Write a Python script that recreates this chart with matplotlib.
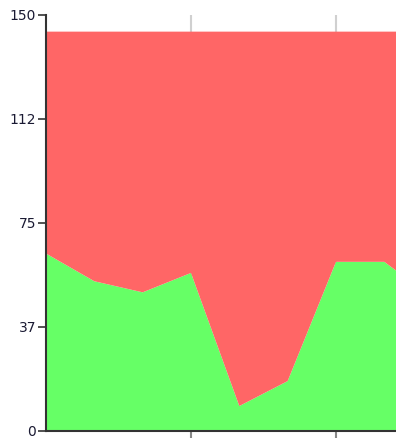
import numpy as np
import matplotlib.pyplot as plt

# Stacked area: green series at the bottom, red fills up to the total
x = np.arange(9)
green = [64, 54, 50, 57, 9, 18, 61, 61, 48]
total = 144
red = [total - g for g in green]

ytick_vals = [0, 37.5, 75, 112.5, 150]
ytick_labels = ['0', '37', '75', '112', '150']

fig = plt.figure(figsize=(3.96, 4.38), dpi=100)
ax = fig.add_axes([46/396, 7/438, 350/396, 416/438])

ax.stackplot(x, green, red, colors=['#66ff66', '#ff6666'], zorder=2)

# Axis ranges and ticks
ax.set_xlim(0, 350/48.33)
ax.set_ylim(0, 150)
ax.set_xticks([3, 6])
ax.set_xticklabels([])
ax.set_yticks(ytick_vals)
ax.set_yticklabels(ytick_labels, fontsize=10, color='#1a1a33')

ax.xaxis.grid(True, color='#d0d0d0', linewidth=1.5, zorder=1)
ax.set_axisbelow(True)
ax.tick_params(axis='x', length=7, width=1.5, color='#888888')
ax.tick_params(axis='y', length=6, width=1.2, color='#333333', pad=1)

for side in ['top', 'right']:
    ax.spines[side].set_visible(False)
for side in ['left', 'bottom']:
    ax.spines[side].set_color('#333333')
    ax.spines[side].set_linewidth(1.5)
    ax.spines[side].set_zorder(3)

plt.savefig('out.png', dpi=100)
